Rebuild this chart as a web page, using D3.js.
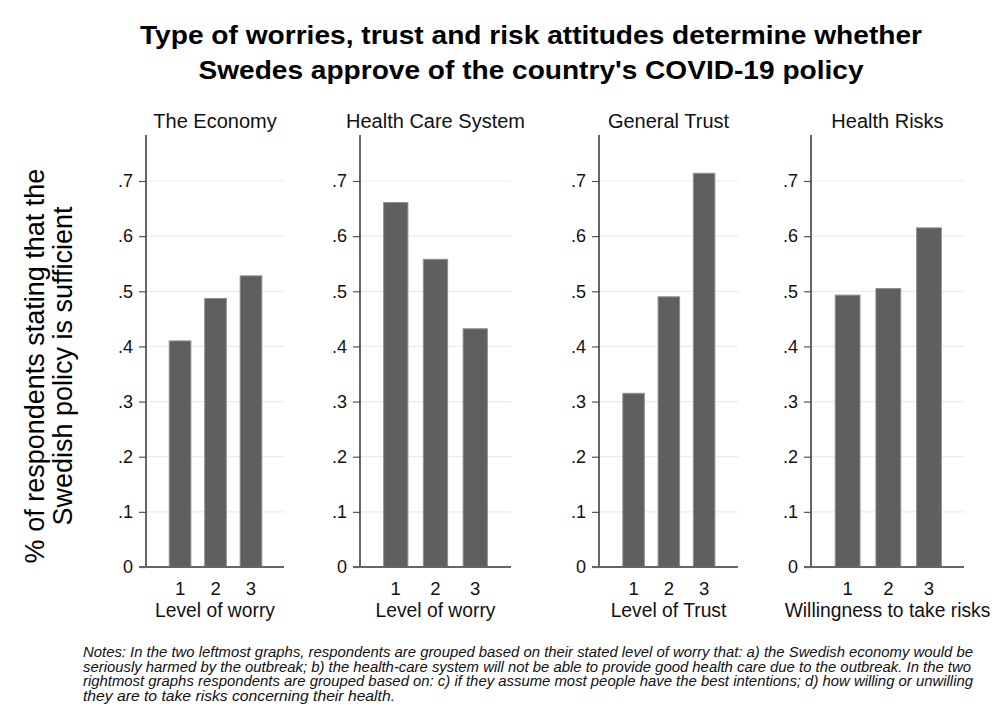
<!DOCTYPE html>
<html><head><meta charset="utf-8">
<script src="https://cdn.jsdelivr.net/npm/d3@7"></script>
<style>body{margin:0;background:#fff}svg{display:block}</style>
</head><body>
<svg id="c" width="1000" height="728"></svg>
<script>
const titleLines = ["Type of worries, trust and risk attitudes determine whether", "Swedes approve of the country's COVID-19 policy"];
const panelTitles = ["The Economy", "Health Care System", "General Trust", "Health Risks"];
const xTitles = ["Level of worry", "Level of worry", "Level of Trust", "Willingness to take risks"];
const categories = [1, 2, 3];
const economy = [0.410, 0.487, 0.528];
const healthCare = [0.661, 0.558, 0.432];
const generalTrust = [0.315, 0.490, 0.714];
const healthRisks = [0.493, 0.505, 0.615];
const yTicks = [0, 0.1, 0.2, 0.3, 0.4, 0.5, 0.6, 0.7];
const yTitle = ["% of respondents stating that the", "Swedish policy is sufficient"];
const notes = [
 "Notes: In the two leftmost graphs, respondents are grouped based on their stated level of worry that: a) the Swedish economy would be",
 "seriously harmed by the outbreak; b) the health-care system will not be able to provide good health care due to the outbreak. In the two",
 "rightmost graphs respondents are grouped based on: c) if they assume most people have the best intentions; d) how willing or unwilling",
 "they are to take risks concerning their health."
];
const series = [economy, healthCare, generalTrust, healthRisks];

// layout
const panels = [
  {x0: 146, x1: 284, d0: 0.04, d1: 3.93},
  {x0: 360, x1: 511, d0: 0.10, d1: 3.90},
  {x0: 599, x1: 738, d0: 0.02, d1: 3.96},
  {x0: 811, x1: 964, d0: 0.10, d1: 3.86}
];
const y = d3.scaleLinear().domain([0, 0.7]).range([567, 181]);
const yTop = 135;
const font = "Arial, 'Liberation Sans', Helvetica, sans-serif";
const svg = d3.select("#c");

const titleLens = [782, 665];
svg.append("g").selectAll("text").data(titleLines).join("text")
  .attr("x", 531).attr("y", (d,i) => 44 + i*35)
  .attr("text-anchor", "middle").attr("font-family", font)
  .attr("font-weight", "bold").attr("font-size", 26.5).attr("fill", "#000")
  .attr("textLength", (d,i) => titleLens[i]).attr("lengthAdjust", "spacingAndGlyphs")
  .text(d => d);

svg.append("g").attr("transform", "translate(0,366) rotate(-90)")
  .selectAll("text").data(yTitle).join("text")
  .attr("x", 0).attr("y", (d,i) => 44 + i*28)
  .attr("text-anchor", "middle").attr("font-family", font)
  .attr("font-size", 27).attr("fill", "#000").text(d => d);

panels.forEach((p, k) => {
  const g = svg.append("g");
  const x = d3.scaleLinear().domain([p.d0, p.d1]).range([p.x0, p.x1]);
  const step = x(2) - x(1);
  const bw = step * 0.61;
  // gridlines
  g.selectAll("line.grid").data(yTicks.filter(t => t > 0)).join("line")
    .attr("x1", p.x0 + 1).attr("x2", p.x1).attr("y1", d => y(d)).attr("y2", d => y(d))
    .attr("stroke", "#ebebeb").attr("stroke-width", 1.2);
  // bars
  g.selectAll("rect").data(categories).join("rect")
    .attr("x", (d) => x(d) - bw/2).attr("width", bw)
    .attr("y", (d,i) => y(series[k][i])).attr("height", (d,i) => y(0) - y(series[k][i]))
    .attr("fill", "#5f5f5f").attr("stroke", "#8f8f8f").attr("stroke-width", 1);
  // y axis
  const ya = d3.axisLeft(y).tickValues(yTicks).tickSize(7).tickPadding(6)
    .tickFormat(d => d === 0 ? "0" : d3.format(".1f")(d).replace(/^0/, ""));
  const yg = g.append("g").attr("transform", `translate(${p.x0},0)`).call(ya);
  yg.select(".domain").remove();
  yg.selectAll(".tick line").attr("stroke", "#555").attr("stroke-width", 1.2);
  yg.selectAll(".tick text").attr("font-family", font).attr("font-size", 18).attr("fill", "#111");
  g.append("line").attr("x1", p.x0).attr("x2", p.x0).attr("y1", yTop).attr("y2", y(0))
    .attr("stroke", "#333").attr("stroke-width", 1.5);
  // x axis
  g.append("line").attr("x1", p.x0 - 7).attr("x2", p.x1).attr("y1", y(0)).attr("y2", y(0))
    .attr("stroke", "#666").attr("stroke-width", 2);
  g.selectAll("text.xt").data(categories).join("text").attr("class", "xt")
    .attr("x", d => x(d)).attr("y", 595).attr("text-anchor", "middle")
    .attr("font-family", font).attr("font-size", 18.5).attr("fill", "#111").text(d => d);
  const cx = (p.x0 + p.x1) / 2;
  g.append("text").attr("x", cx).attr("y", 617).attr("text-anchor", "middle")
    .attr("font-family", font).attr("font-size", 19.3).attr("fill", "#111").text(xTitles[k]);
  g.append("text").attr("x", cx).attr("y", 128).attr("text-anchor", "middle")
    .attr("font-family", font).attr("font-size", 20).attr("fill", "#111").text(panelTitles[k]);
});

const noteLens = [890, 888, 890, 312];
svg.append("g").selectAll("text").data(notes).join("text")
  .attr("x", 83).attr("y", (d,i) => 657 + i*14.7)
  .attr("font-family", "'Liberation Sans Narrow', 'Arial Narrow', Arial, sans-serif")
  .attr("font-style", "italic").attr("font-size", 14).attr("fill", "#111")
  .attr("textLength", (d,i) => noteLens[i]).attr("lengthAdjust", "spacingAndGlyphs")
  .text(d => d);
</script>
</body></html>
